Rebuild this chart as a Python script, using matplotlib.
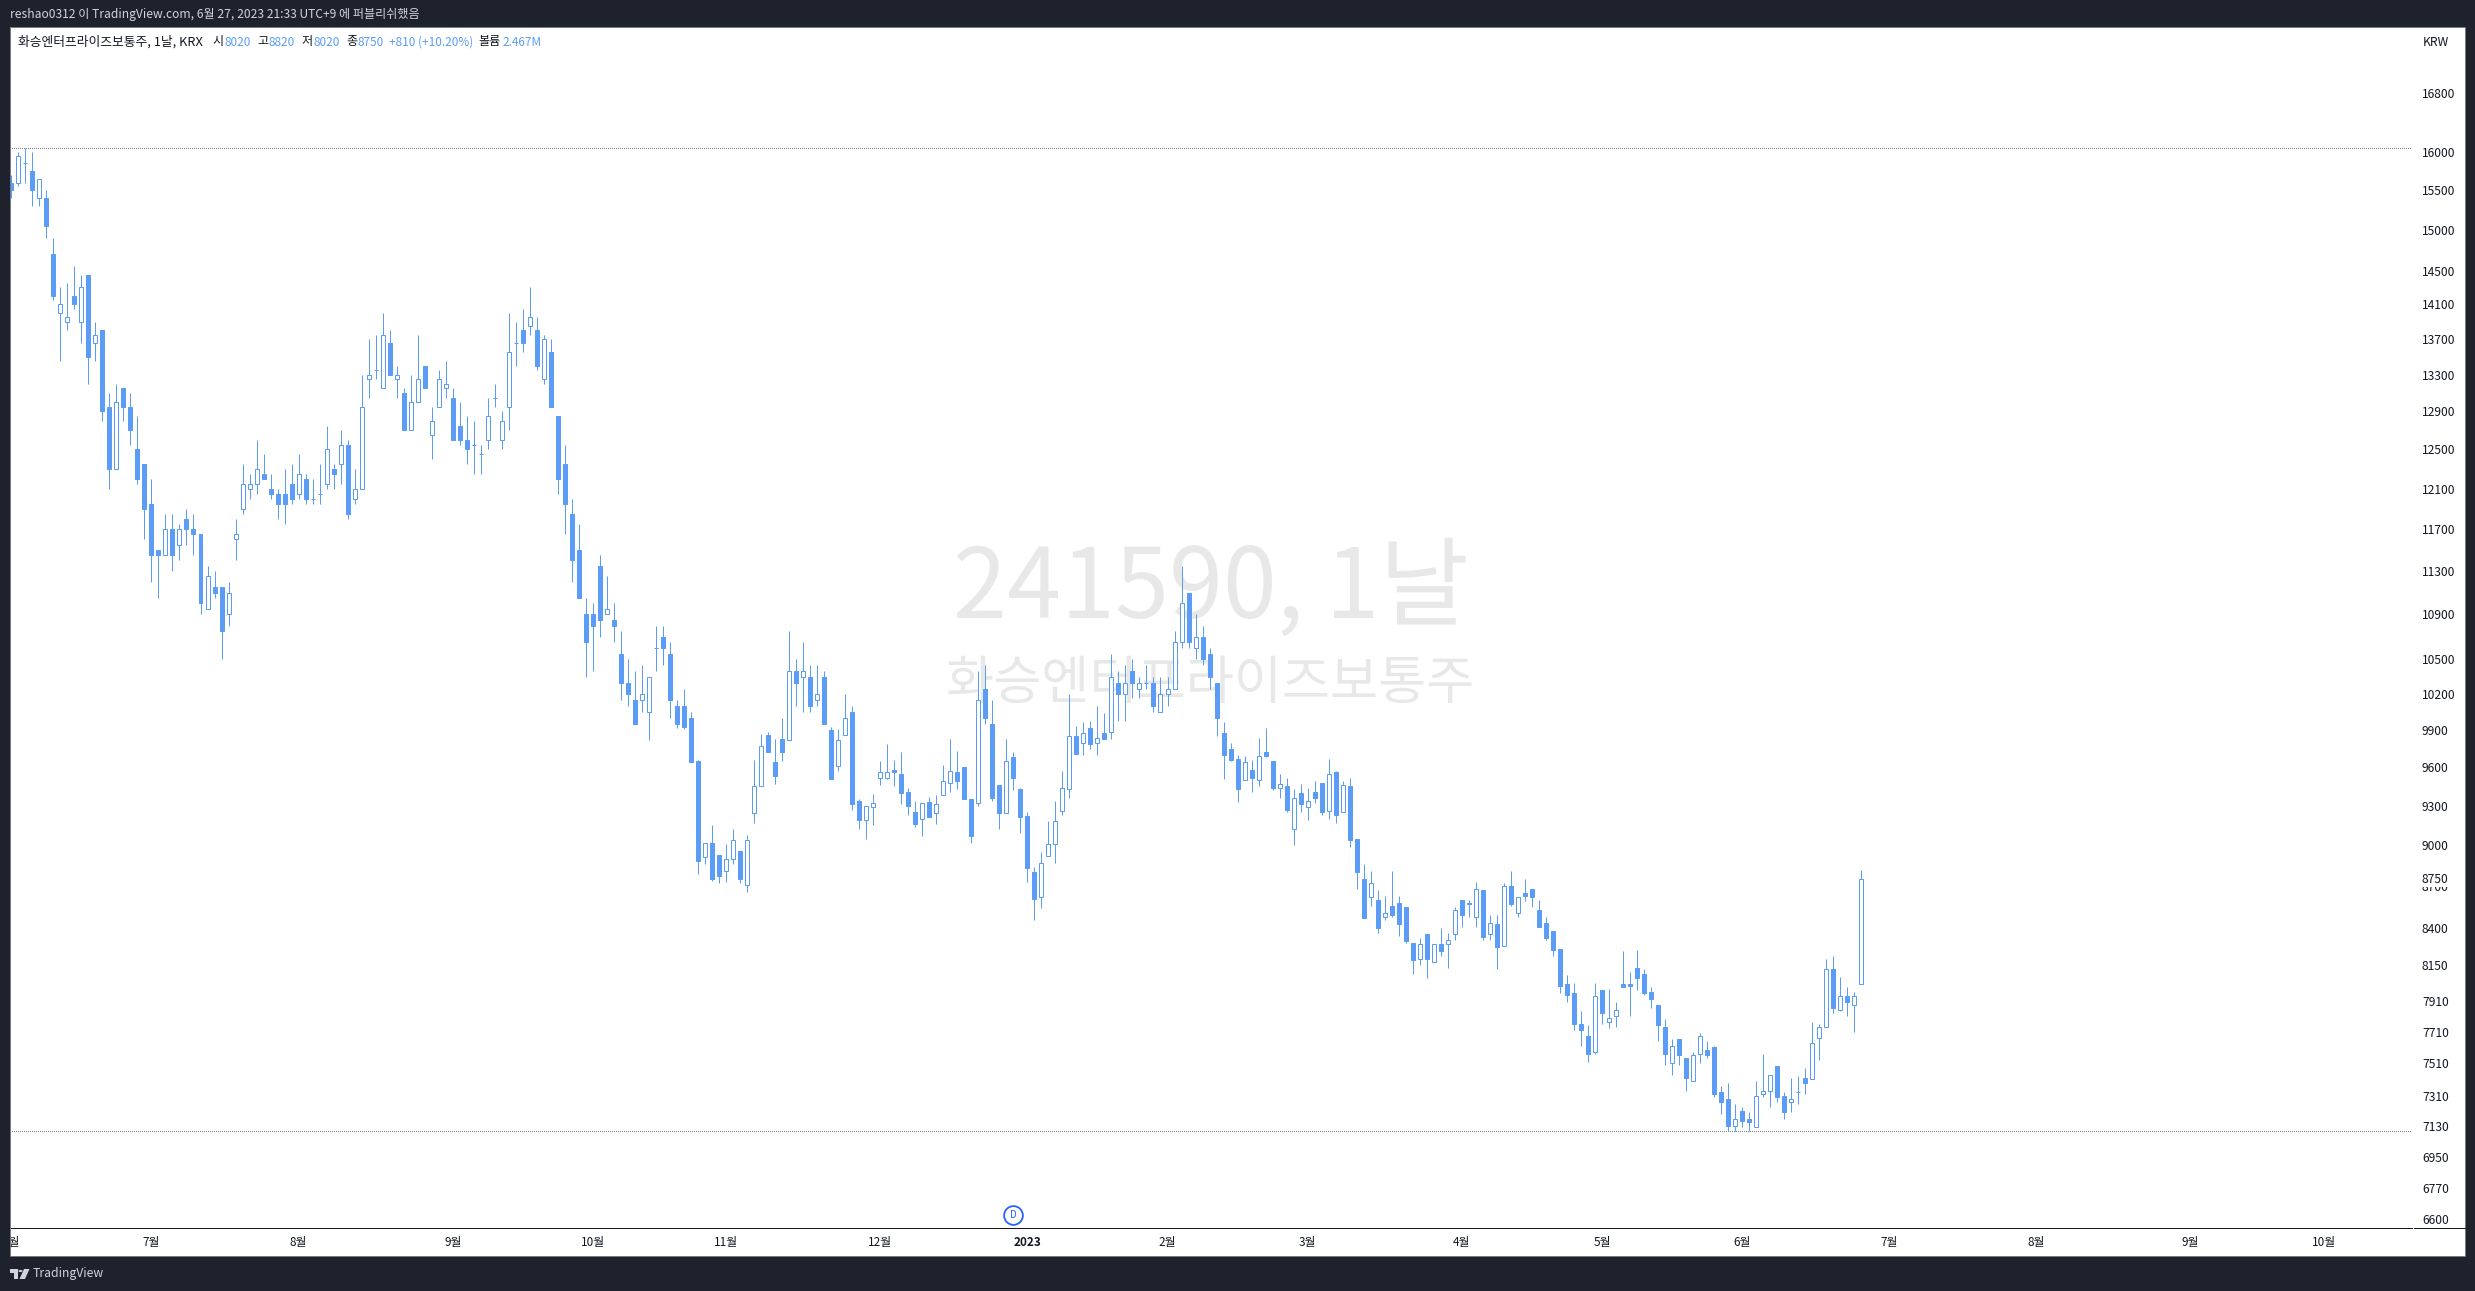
import numpy as np
import matplotlib
matplotlib.use("Agg")
import matplotlib.pyplot as plt
from matplotlib.lines import Line2D
from matplotlib.patches import Circle, Polygon, Rectangle
from matplotlib.ticker import NullLocator

plt.rcParams["font.family"] = ["Noto Sans CJK KR", "DejaVu Sans"]

# --------- candles ---------
opens = [
    15600, 15600, 15850, 15750, 15400, 15400, 14700, 14000, 13900, 14200,
    13900, 14450, 13650, 13800, 12950, 12300, 13150, 12950, 12500, 12350,
    11950, 11500, 11450, 11700, 11550, 11800, 11700, 11650, 10950, 11150,
    11150, 10900, 11600, 11900, 12100, 12150, 12250, 12100, 12050, 12050,
    12150, 12050, 12200, 12000, 12050, 12150, 12300, 12350, 12550, 12000,
    12100, 13250, 13350, 13150, 13650, 13250, 13100, 12700, 13000, 13400,
    12650, 12950, 13150, 13050, 12750, 12600, 12550, 12450, 12600, 13050,
    12600, 12950, 13650, 13800, 13850, 13800, 13250, 13550, 12850, 12350,
    11850, 11500, 10900, 10900, 11350, 10900, 10850, 10550, 10300, 10150,
    10150, 10050, 10600, 10700, 10550, 10100, 10100, 10000, 9650, 8910,
    9020, 8930, 8810, 8900, 8960, 8710, 9240, 9450, 9860, 9640,
    9830, 9820, 10400, 10350, 10350, 10150, 10350, 9900, 9610, 9860,
    10050, 9340, 9190, 9290, 9520, 9520, 9580, 9550, 9410, 9250,
    9200, 9330, 9240, 9380, 9480, 9560, 9600, 9350, 9320, 10250,
    9950, 9460, 9240, 9680, 9430, 9220, 8800, 8620, 8920, 9010,
    9260, 9430, 9850, 9800, 9920, 9800, 9880, 9890, 10300, 10200,
    10400, 10250, 10300, 10300, 10050, 10200, 10250, 10650, 11100, 10600,
    10700, 10550, 10300, 9880, 9750, 9670, 9500, 9580, 9500, 9720,
    9650, 9440, 9450, 9120, 9400, 9290, 9410, 9480, 9260, 9560,
    9250, 9450, 9050, 8750, 8620, 8600, 8480, 8560, 8580, 8550,
    8300, 8190, 8360, 8170, 8290, 8290, 8360, 8600, 8580, 8480,
    8670, 8360, 8430, 8280, 8700, 8510, 8650, 8680, 8530, 8440,
    8380, 8260, 8020, 7960, 7760, 7680, 7580, 7980, 7770, 7810,
    8020, 8020, 8130, 8090, 7970, 7880, 7740, 7510, 7660, 7540,
    7400, 7570, 7590, 7610, 7330, 7290, 7130, 7220, 7170, 7120,
    7320, 7340, 7490, 7310, 7270, 7330, 7420, 7410, 7670, 7740,
    8120, 7850, 7940, 7880, 8020,
]
highs = [
    15700, 16000, 16050, 16000, 15650, 15500, 14900, 14300, 14350, 14550,
    14450, 14450, 13900, 13800, 13100, 13200, 13150, 13100, 12850, 12350,
    12200, 11500, 11850, 11850, 11750, 11900, 11850, 11650, 11350, 11300,
    11150, 11200, 11800, 12350, 12250, 12600, 12450, 12250, 12100, 12300,
    12350, 12450, 12250, 12200, 12350, 12750, 12350, 12700, 12600, 12300,
    13300, 13700, 13750, 14000, 13800, 13400, 13150, 13300, 13750, 13400,
    12950, 13350, 13450, 13150, 13000, 12850, 12800, 12550, 13050, 13200,
    12900, 14000, 13900, 14050, 14300, 13950, 13750, 13700, 12850, 12550,
    12000, 11750, 11050, 11000, 11450, 11250, 11000, 10750, 10500, 10400,
    10450, 10350, 10800, 10800, 10650, 10150, 10250, 10050, 9660, 9020,
    9150, 8930, 9010, 9120, 8960, 9080, 9660, 9870, 9890, 9830,
    10000, 10750, 10500, 10650, 10450, 10450, 10400, 9930, 9910, 10200,
    10100, 9350, 9300, 9390, 9650, 9790, 9660, 9720, 9440, 9340,
    9320, 9370, 9380, 9620, 9830, 9730, 9600, 9350, 10400, 10450,
    10150, 9460, 9830, 9720, 9440, 9250, 8840, 8950, 9180, 9340,
    9570, 10200, 9940, 9970, 9980, 10100, 10040, 10550, 10400, 10450,
    10500, 10350, 10450, 10350, 10350, 10350, 10750, 11350, 11100, 10900,
    10800, 10600, 10300, 9970, 9800, 9700, 9690, 9660, 9840, 9920,
    9650, 9550, 9520, 9430, 9470, 9440, 9490, 9480, 9670, 9570,
    9490, 9520, 9050, 8860, 8810, 8670, 8630, 8810, 8630, 8550,
    8300, 8330, 8360, 8290, 8400, 8370, 8550, 8600, 8600, 8730,
    8670, 8490, 8490, 8720, 8810, 8620, 8750, 8680, 8600, 8480,
    8380, 8260, 8080, 8030, 7840, 7750, 8030, 7980, 7990, 7900,
    8240, 8100, 8250, 8120, 8000, 7880, 7790, 7660, 7660, 7540,
    7580, 7700, 7650, 7620, 7370, 7390, 7260, 7240, 7210, 7400,
    7570, 7440, 7490, 7330, 7420, 7430, 7480, 7770, 7760, 8190,
    8210, 8070, 8000, 7970, 8820,
]
lows = [
    15400, 15550, 15600, 15300, 15300, 14900, 14150, 13450, 13800, 14050,
    13650, 13200, 13450, 12800, 12100, 12300, 12800, 12550, 12150, 11600,
    11200, 11050, 11450, 11300, 11400, 11550, 11450, 10900, 10950, 11050,
    10500, 10800, 11400, 11850, 12000, 12050, 12200, 12000, 11800, 11750,
    11950, 12000, 11950, 11950, 11950, 12100, 12100, 12150, 11800, 11950,
    12100, 13050, 13250, 13150, 13300, 13050, 12700, 12700, 13000, 13150,
    12400, 12950, 13050, 12600, 12550, 12350, 12250, 12250, 12500, 12950,
    12500, 12700, 13400, 13550, 13750, 13350, 13200, 12950, 12050, 11650,
    11200, 11050, 10350, 10400, 10700, 10900, 10650, 10150, 10100, 9950,
    10050, 9820, 10400, 10450, 10000, 9920, 9910, 9640, 8790, 8860,
    8740, 8720, 8730, 8860, 8720, 8660, 9170, 9450, 9720, 9470,
    9650, 9820, 10100, 10050, 10050, 10100, 9950, 9510, 9570, 9860,
    9270, 9120, 9050, 9150, 9460, 9510, 9450, 9310, 9230, 9140,
    9070, 9210, 9160, 9380, 9410, 9430, 9350, 9020, 9300, 9950,
    9340, 9120, 9240, 9420, 9090, 8730, 8460, 8540, 8920, 8870,
    9230, 9360, 9710, 9700, 9750, 9700, 9830, 9830, 9980, 9980,
    10170, 10170, 10250, 10050, 10050, 10100, 10250, 10600, 10600, 10500,
    10450, 10250, 9850, 9510, 9650, 9330, 9500, 9410, 9450, 9680,
    9420, 9360, 9250, 9000, 9250, 9190, 9320, 9230, 9200, 9170,
    9250, 8990, 8680, 8470, 8560, 8370, 8460, 8480, 8350, 8300,
    8090, 8150, 8060, 8170, 8210, 8130, 8320, 8410, 8480, 8410,
    8320, 8320, 8120, 8280, 8560, 8480, 8590, 8550, 8410, 8320,
    8210, 7960, 7900, 7720, 7620, 7520, 7570, 7760, 7730, 7740,
    8000, 7810, 7980, 7950, 7860, 7650, 7500, 7440, 7500, 7340,
    7400, 7510, 7540, 7300, 7200, 7100, 7100, 7120, 7100, 7120,
    7300, 7240, 7270, 7170, 7210, 7260, 7320, 7410, 7530, 7740,
    7830, 7840, 7810, 7710, 8020,
]
closes = [
    15500, 15950, 15850, 15500, 15650, 15050, 14200, 14100, 13950, 14100,
    14300, 13500, 13750, 12900, 12300, 13000, 12950, 12700, 12200, 11900,
    11450, 11450, 11700, 11450, 11700, 11700, 11650, 11000, 11250, 11100,
    10750, 11100, 11650, 12150, 12150, 12300, 12200, 12050, 11950, 11950,
    12000, 12250, 12000, 12000, 12050, 12500, 12250, 12550, 11850, 12100,
    12950, 13300, 13350, 13750, 13300, 13300, 12700, 13000, 13250, 13150,
    12800, 13250, 13200, 12600, 12600, 12500, 12550, 12450, 12850, 13050,
    12800, 13550, 13650, 13650, 13950, 13400, 13700, 12950, 12200, 11950,
    11400, 11050, 10650, 10800, 10850, 10950, 10800, 10300, 10200, 9950,
    10200, 10350, 10600, 10600, 10150, 9950, 9930, 9640, 8880, 9020,
    8750, 8770, 8900, 9040, 8750, 9040, 9450, 9770, 9720, 9530,
    9720, 10400, 10300, 10400, 10100, 10200, 9950, 9510, 9820, 10000,
    9310, 9190, 9300, 9320, 9560, 9560, 9560, 9400, 9300, 9160,
    9320, 9210, 9310, 9490, 9570, 9490, 9350, 9070, 10150, 10000,
    9360, 9240, 9650, 9520, 9210, 8830, 8610, 8870, 9010, 9180,
    9440, 9850, 9710, 9880, 9790, 9840, 9830, 10350, 10200, 10300,
    10300, 10300, 10300, 10100, 10200, 10250, 10650, 11000, 10650, 10700,
    10500, 10350, 10000, 9700, 9660, 9430, 9640, 9520, 9690, 9690,
    9440, 9470, 9270, 9360, 9310, 9340, 9360, 9250, 9550, 9230,
    9460, 9040, 8800, 8470, 8720, 8400, 8510, 8490, 8430, 8310,
    8180, 8290, 8190, 8290, 8240, 8320, 8530, 8490, 8570, 8680,
    8340, 8440, 8270, 8700, 8570, 8620, 8630, 8620, 8410, 8330,
    8250, 8010, 7950, 7760, 7720, 7570, 7940, 7830, 7800, 7850,
    8000, 8010, 8060, 7960, 7920, 7750, 7570, 7620, 7560, 7420,
    7560, 7680, 7560, 7320, 7270, 7130, 7170, 7160, 7150, 7310,
    7340, 7440, 7300, 7210, 7290, 7330, 7390, 7640, 7740, 8120,
    7860, 7940, 7900, 7940, 8750,
]

price_ticks = [16800, 16000, 15500, 15000, 14500, 14100, 13700, 13300, 12900, 12500, 12100,
               11700, 11300, 10900, 10500, 10200, 9900, 9600, 9300, 9000, 8700, 8400,
               8150, 7910, 7710, 7510, 7310, 7130, 6950, 6770, 6600]
time_ticks = [0, 20, 41, 63, 83, 102, 124, 145, 165, 185, 207, 227, 247, 268, 289, 311, 330]
time_labels = ["6월", "7월", "8월", "9월", "10월", "11월", "12월", "2023", "2월", "3월",
               "4월", "5월", "6월", "7월", "8월", "9월", "10월"]
dividend_bar = 143

W, H = 2475, 1291
BLUE = "#5b9cf6"
DARK = "#1e222d"
INK = "#131722"
GRAY = "#787b86"
PX = 0.72  # one pixel in points at dpi 100


def fx(px):
    return px / W


def fy(px):
    return 1 - px / H


fig = plt.figure(figsize=(W / 100, H / 100), dpi=100, facecolor=DARK)
ax = fig.add_axes([fx(10), fy(1228), 2402 / W, 1201 / H])
ax.set_facecolor("white")

opens = np.array(opens)
highs = np.array(highs)
lows = np.array(lows)
closes = np.array(closes)
xs = np.arange(len(opens))
up = closes >= opens

# --------- candles ---------
ax.set_yscale("log")
ax.vlines(xs, lows, highs, color=BLUE, lw=PX, zorder=2)
body_w = 4 / 7.008
ax.bar(xs[up], (closes - opens)[up], bottom=opens[up], width=body_w, facecolor="white",
       edgecolor=BLUE, linewidth=PX, zorder=3)
ax.bar(xs[~up], (opens - closes)[~up], bottom=closes[~up], width=body_w, facecolor=BLUE,
       edgecolor=BLUE, linewidth=PX, zorder=3)

# high / low of the visible range
for level in (highs.max(), lows.min()):
    ax.axhline(level, color=GRAY, lw=PX, ls=(0, (1, 2)), antialiased=False, zorder=1)

ax.set_xlim(-0.186, 342.6)
ax.set_ylim(6550, 17750)

# --------- axes ---------
ax.yaxis.tick_right()
ax.set_yticks(price_ticks)
ax.set_yticklabels([str(p) for p in price_ticks])
ax.yaxis.set_minor_locator(NullLocator())
ax.tick_params(axis="y", length=0, pad=7.2, labelsize=8.7, labelcolor=INK)
ax.set_xticks(time_ticks)
ax.set_xticklabels(time_labels)
ax.tick_params(axis="x", length=0, pad=5.5, labelsize=8.5, labelcolor=INK)
ax.get_xticklabels()[time_labels.index("2023")].set_fontweight("bold")
for spine in ("top", "left", "right"):
    ax.spines[spine].set_visible(False)
ax.spines["bottom"].set_color(INK)
ax.spines["bottom"].set_linewidth(PX)

# last price sits over the 8700 tick
ax.annotate(str(closes[-1]), xy=(1, closes[-1]), xycoords=ax.get_yaxis_transform(),
            xytext=(7.2, 0), textcoords="offset points", va="center", ha="left", fontsize=8.7,
            color=INK, annotation_clip=False, zorder=10,
            bbox=dict(facecolor="white", edgecolor="none", pad=1.2))

# dividend mark
ax.plot([dividend_bar], [(1228 - 1215) / 1201], transform=ax.get_xaxis_transform(), marker="o",
        ms=13.5, mfc="white", mec="#2962ff", mew=1.3, ls="none", zorder=5, clip_on=False)
ax.text(dividend_bar, (1228 - 1215) / 1201, "D", transform=ax.get_xaxis_transform(), color="#2962ff",
        fontsize=7, ha="center", va="center", zorder=6)

# --------- watermark ---------
ax.text(fx(1211), fy(590), "241590, 1날", transform=fig.transFigure, fontsize=70, color="#e8e8e8",
        ha="center", va="center", zorder=0.5)
ax.text(fx(1211), fy(684), "화승엔터프라이즈보통주", transform=fig.transFigure, fontsize=37.7, color="#e8e8e8",
        ha="center", va="center", zorder=0.5)

# --------- frame ---------
fig.add_artist(Rectangle((fx(10), fy(1256)), 2455 / W, 1229 / H, transform=fig.transFigure,
                         facecolor="white", edgecolor="none", zorder=-1))
fig.add_artist(Rectangle((0, 0), fx(10), 1, transform=fig.transFigure,
                         facecolor=DARK, edgecolor="none", zorder=5))
fig.add_artist(Rectangle((fx(10), fy(1256)), 2455 / W, 1229 / H, transform=fig.transFigure,
                         facecolor="none", edgecolor=GRAY, linewidth=PX, zorder=6))
fig.add_artist(Line2D([fx(2414), fx(2465)], [fy(1228), fy(1228)], color=INK, lw=PX, zorder=6))

# --------- texts ---------
fig.text(fx(10), fy(14.5), "reshao0312 이 TradingView.com, 6월 27, 2023 21:33 UTC+9 에 퍼블리쉬했음",
         color="#d1d4dc", fontsize=8.7, va="center", ha="left")
fig.text(fx(2423), fy(42), "KRW", color=INK, fontsize=8.7, va="center", ha="left")

legend = [
    (18, "화승엔터프라이즈보통주, 1날, KRX", INK, 9.2),
    (212.7, "시", INK, 8.7), (224.6, "8020", BLUE, 8.5),
    (257, "고", INK, 8.7), (268.9, "8820", BLUE, 8.5),
    (301.7, "저", INK, 8.7), (313, "8020", BLUE, 8.5),
    (346, "종", INK, 8.7), (357.8, "8750", BLUE, 8.5),
    (389.5, "+810 (+10.20%)", BLUE, 8.5),
    (478.4, "볼륨", INK, 8.7), (502, "2.467M", BLUE, 8.5),
]
for x, s, col, size in legend:
    fig.text(fx(x), fy(42), s, color=col, fontsize=size, va="center", ha="left")

# --------- footer logo ---------
logo = "#d1d4dc"
fig.add_artist(Polygon([(fx(10), fy(1269)), (fx(18), fy(1269)), (fx(18), fy(1279)), (fx(14), fy(1279)),
                        (fx(14), fy(1273)), (fx(10), fy(1273))], closed=True, transform=fig.transFigure,
                       facecolor=logo, edgecolor="none"))
fig.add_artist(Polygon([(fx(24), fy(1269)), (fx(29.5), fy(1269)), (fx(25), fy(1279)), (fx(19.5), fy(1279))],
                       closed=True, transform=fig.transFigure, facecolor=logo, edgecolor="none"))
fig.add_artist(Circle((fx(20.5), fy(1271)), 2 / W, transform=fig.transFigure, facecolor=logo, edgecolor="none"))
fig.text(fx(33), fy(1273), "TradingView", color=logo, fontsize=8.8, va="center", ha="left")

fig.savefig("out.png", dpi=100, facecolor=fig.get_facecolor())
